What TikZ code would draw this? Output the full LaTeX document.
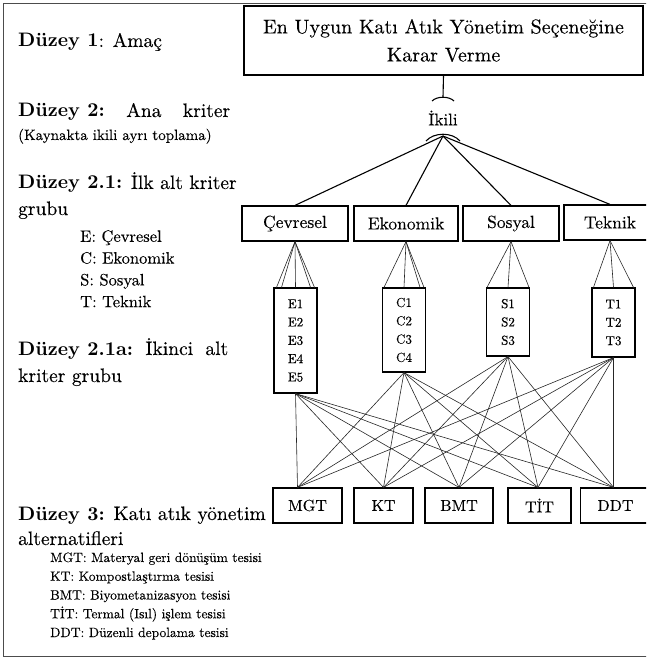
\documentclass[tikz,border=0pt]{standalone}
\usepackage{fontspec}
\setmainfont{lmroman10-regular}[Extension=.otf,UprightFeatures={FakeBold=0.2},
        BoldFont=lmroman10-bold,ItalicFont=lmroman10-italic]
\usepackage{tikz}
\usetikzlibrary{arrows,shapes}

\newcommand\lvlfont{\fontsize{19.5}{23}\selectfont}
\newcommand\cmtfont{\fontsize{15}{17}\selectfont}
\newcommand\keyfont{\fontsize{16.5}{19}\selectfont}
\newcommand\lstfont{\fontsize{13.5}{16}\selectfont}

\begin{document}
\begin{tikzpicture}[x=1pt,y=-1pt,
        box/.style={draw,line width=1.2pt,inner sep=0pt,align=center},
        crit/.style={box,minimum height=35pt,font=\fontsize{17.5}{20}\selectfont},
        sub/.style={box,minimum width=43pt,font=\fontsize{13}{18.3}\selectfont},
        alt/.style={box,minimum height=35pt,font=\fontsize{16}{19}\selectfont},
        lbl/.style={anchor=base west,inner sep=0pt},
        edge/.style={line width=1.1pt},
        link/.style={line width=0.6pt,black!85}]
        \useasboundingbox (0,0) rectangle (646,663);
        \clip (0,0) rectangle (646,663);
        \draw[line width=0.8pt,black!70] (3,3) rectangle (660,656);

        % levels on the left
        \node[lbl,font=\lvlfont] (d1) at (18,47) {\textbf{Düzey 1}: Amaç};
        \node[lbl,font=\lvlfont] (d2) at (18,117) {\hbox to 212pt{\textbf{Düzey 2:}\hfill Ana\hfill kriter}};
        \node[lbl,font=\cmtfont] (d2n) at (18,140) {(Kaynakta ikili ayrı toplama)};
        \node[lbl,font=\lvlfont] (d21) at (18,189) {\textbf{Düzey 2.1:} İlk alt kriter};
        \node[lbl,font=\lvlfont] (d21g) at (18,215) {grubu};
        \foreach \t [count=\i] in {E: Çevresel,C: Ekonomik,S: Sosyal,T: Teknik}
            \node[lbl,font=\keyfont] (k\i) at (80,220+21.8*\i) {\t};
        \node[lbl,font=\lvlfont] (d21a) at (18,355) {\hbox to 210pt{\textbf{Düzey 2.1a:}\hfill İkinci\hfill alt}};
        \node[lbl,font=\lvlfont] (d21ag) at (18,382) {kriter grubu};
        \node[lbl,font=\lvlfont] (d3) at (18,520) {\textbf{Düzey 3:} Katı atık yönetim};
        \node[lbl,font=\lvlfont] (d3b) at (18,545) {alternatifleri};
        \foreach \t [count=\i] in {MGT: Materyal geri dönüşüm tesisi,KT: Kompostlaştırma tesisi,
                BMT: Biyometanizasyon tesisi,TİT: Termal (Isıl) işlem tesisi,DDT: Düzenli depolama tesisi}
            \node[lbl,font=\lstfont] (a\i) at (50,543.25+18.75*\i) {\t};

        % goal and pairwise node
        \node[box,minimum width=399pt,minimum height=69pt,font=\fontsize{20}{28}\selectfont]
            (goal) at (443.5,40.5) {En Uygun Katı Atık Yönetim Seçeneğine\\Karar Verme};
        \node[inner sep=0pt,font=\fontsize{17}{20}\selectfont] (ikili) at (443,118) {İkili};
        \coordinate (stem) at (443,97);
        \coordinate (apex) at (443,136);
        \draw[edge] (goal.south) -- (stem);
        \draw[edge] (432,101) .. controls (437,96) and (449,96) .. (454,101);
        \draw[edge] (426,141) .. controls (434,132) and (452,132) .. (460,141);

        % criteria
        \node[crit,minimum width=106pt] (cev) at (295,223.5) {Çevresel};
        \node[crit,minimum width=104pt] (eko) at (406,223.5) {Ekonomik};
        \node[crit,minimum width=96pt] (sos) at (511,223.5) {Sosyal};
        \node[crit,minimum width=92pt] (tek) at (610,222.5) {Teknik};
        \foreach \n in {cev,eko,sos,tek}
            \draw[edge] (apex) -- (\n.north);

        % sub criteria
        \node[sub,minimum height=105pt] (E) at (295.5,340.5) {E1\\E2\\E3\\E4\\E5};
        \node[sub,minimum height=84pt] (C) at (404,330) {C1\\C2\\C3\\C4};
        \node[sub,minimum height=68pt] (S) at (508,322) {S1\\S2\\S3};
        \node[sub,minimum height=69pt] (T) at (613.5,322.5) {T1\\T2\\T3};
        \foreach \s in {-19,-14,0,15,19}
            \draw[link] (cev.south) -- ([xshift=\s pt]E.north);
        \foreach \s in {-20,0,16,20}
            \draw[link] (eko.south) -- ([xshift=\s pt]C.north);
        \foreach \s in {-21,0,21}
            \draw[link] (sos.south) -- ([xshift=\s pt]S.north);
        \foreach \s in {-20,0,20}
            \draw[link] (tek.south) -- ([xshift=\s pt]T.north);

        % alternatives
        \node[alt,minimum width=69pt] (mgt) at (307.5,505.5) {MGT};
        \node[alt,minimum width=59pt] (kt) at (383.5,505.5) {KT};
        \node[alt,minimum width=68pt] (bmt) at (459,505.5) {BMT};
        \node[alt,minimum width=63pt] (tit) at (539.5,505.5) {TİT};
        \node[alt,minimum width=70pt] (ddt) at (615.5,505.5) {DDT};
        \coordinate (mgtin) at ([xshift=-10pt]mgt.north);
        \coordinate (titin) at ([xshift=-1.5pt]tit.north);
        \coordinate (ddtin) at ([xshift=-2pt]ddt.north);
        \foreach \a in {E,C,S,T}
            \foreach \b in {mgtin,kt.north,bmt.north,titin,ddtin}
                \draw[link] (\a.south) -- (\b);
\end{tikzpicture}
\end{document}
